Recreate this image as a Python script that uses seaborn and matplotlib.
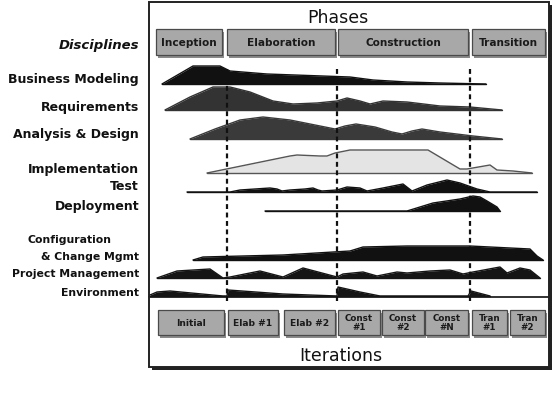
import numpy as np
import matplotlib.pyplot as plt
import seaborn as sns
from matplotlib.patches import Rectangle

# ---- data: effort humps, t = days from project start, h = relative effort ----
bm_t = [12, 43, 70, 80, 117, 200, 223, 257, 290, 336]
bm_h = [0, 18, 18, 13, 10, 7, 4, 2, 1, 0]

req_t = [15, 40, 63, 80, 100, 123, 143, 167, 187, 197, 210, 220, 233, 257, 290, 320, 352]
req_h = [0, 13, 23, 23, 18, 9, 6, 7, 9, 12, 9, 6, 9, 8, 4, 3, 0]

ad_t = [40, 65, 90, 113, 140, 165, 185, 195, 206, 225, 242, 252, 262, 272, 290, 323, 352]
ad_h = [0, 10, 19, 22, 19, 14, 10, 13, 15, 12, 7, 5, 8, 10, 7, 3, 0]

impl_t = [57, 140, 147, 170, 177, 185, 200, 278, 310, 317, 340, 347, 363, 382]
impl_h = [0, 17, 18, 17, 17, 20, 23, 23, 4, 4, 8, 3, 2, 0]

test_t = [37, 80, 90, 105, 120, 127, 132, 140, 155, 163, 168, 172, 187, 197, 210, 217,
          233, 253, 262, 277, 297, 310, 327, 340, 387]
test_h = [0, 0, 2, 3, 4, 3, 1, 2, 3, 4, 2, 1, 2, 5, 4, 1, 4, 8, 1, 7, 12, 9, 3, 0, 0]

dep_t = [115, 257, 270, 283, 310, 323, 330, 337, 342, 347, 350]
dep_h = [0, 0, 4, 8, 12, 15, 14, 10, 7, 4, 0]

cfg_t = [43, 53, 133, 200, 213, 257, 320, 380, 387, 393]
cfg_h = [0, 3, 5, 9, 13, 14, 14, 11, 4, 0]

pm_t = [7, 27, 60, 73, 80, 110, 133, 153, 187, 193, 213, 227, 247, 257, 280, 300,
        313, 323, 350, 357, 370, 380, 390]
pm_h = [0, 7, 9, 0, 1, 7, 1, 10, 1, 4, 6, 2, 6, 5, 7, 8, 4, 6, 11, 5, 10, 8, 0]

env_t = [0, 7, 20, 73, 77, 78, 133, 187, 188, 210, 230, 318, 321, 340]
env_h = [1, 4, 5, 0, 0, 6, 2, 0, 9, 4, 0, 0, 5, 0]

disciplines = ["Business Modeling", "Requirements", "Analysis & Design", "Implementation",
               "Test", "Deployment", "Configuration\n& Change Mgmt", "Project Management",
               "Environment"]
humps = [(bm_t, bm_h), (req_t, req_h), (ad_t, ad_h), (impl_t, impl_h), (test_t, test_h),
         (dep_t, dep_h), (cfg_t, cfg_h), (pm_t, pm_h), (env_t, env_h)]

phases = ["Inception", "Elaboration", "Construction", "Transition"]
phase_start = [6, 77, 188, 322]
phase_end = [72, 185, 318, 395]
milestones = [77, 187, 320]

iterations = ["Initial", "Elab #1", "Elab #2", "Const\n#1", "Const\n#2", "Const\n#N",
              "Tran\n#1", "Tran\n#2"]
iter_start = [8, 78, 134, 188, 232, 275, 322, 360]
iter_end = [74, 128, 185, 230, 274, 318, 357, 395]

# ---- layout (pixels) ----
X0 = 150
baselines = [85, 111, 140, 174, 193, 212, 261, 279, 297]
label_y = [80, 107, 135, 170, 187, 207, 248, 274, 293]
label_size = [9, 9, 9, 9, 9, 9, 7.8, 7.8, 7.8]
fills = ["#111111", "#333333", "#3a3a3a", "#e4e4e4", "#111111", "#111111",
         "#111111", "#151515", "#151515"]
edges = ["#111111", "#333333", "#3a3a3a", "#555555", "#111111", "#111111",
         "#111111", "#151515", "#151515"]

sns.set_style("white")
plt.rcParams['font.family'] = ['DejaVu Sans']

fig = plt.figure(figsize=(5.57, 4.02), dpi=100)
ax = fig.add_axes([0, 0, 1, 1])
ax.set_xlim(0, 557)
ax.set_ylim(402, 0)
ax.axis("off")

# frame with shadow
ax.add_patch(Rectangle((152, 6), 400, 365, facecolor="#222222", edgecolor="none", zorder=0))
ax.add_patch(Rectangle((149, 3), 400, 365, facecolor="white", edgecolor="#222222",
                       linewidth=1.4, zorder=1))
ax.plot([149, 549], [298, 298], color="#222222", lw=1.3, zorder=2)

ax.text(338, 18, "Phases", ha="center", va="center", fontsize=12.5, color="#111111", zorder=5)
ax.text(341, 356, "Iterations", ha="center", va="center", fontsize=12.5, color="#111111", zorder=5)
ax.text(139, 45, "Disciplines", ha="right", va="center", fontsize=9.5, fontweight="bold",
        style="italic", color="#111111")


def box(x0, x1, y0, y1, text, fs):
    ax.add_patch(Rectangle((X0 + x0 + 2, y0 + 3), x1 - x0, y1 - y0, facecolor="#8a8a8a",
                           edgecolor="none", zorder=3))
    ax.add_patch(Rectangle((X0 + x0, y0), x1 - x0, y1 - y0, facecolor="#a8a8a8",
                           edgecolor="#4a4a4a", linewidth=0.9, zorder=4))
    ax.text(X0 + (x0 + x1) / 2, (y0 + y1) / 2, text, ha="center", va="center", fontsize=fs,
            color="#1a1a1a", fontweight="bold", zorder=5, linespacing=1.0)


for name, s, e in zip(phases, phase_start, phase_end):
    box(s, e, 30, 56, name, 7.6)
for name, s, e in zip(iterations, iter_start, iter_end):
    box(s, e, 311, 336, name, 6.3 if "\n" in name else 6.6)

# discipline labels
for name, y, fs in zip(disciplines, label_y, label_size):
    if "\n" in name:
        top, bottom = name.split("\n")
        ax.text(27, 240, top, ha="left", va="center", fontsize=fs, fontweight="bold", color="#111111")
        ax.text(139, 257, bottom, ha="right", va="center", fontsize=fs, fontweight="bold", color="#111111")
    else:
        ax.text(139, y, name, ha="right", va="center", fontsize=fs, fontweight="bold", color="#111111")

# humps
for (t, h), base, fc, ec in zip(humps, baselines, fills, edges):
    x = X0 + np.array(t)
    y = base - np.array(h)
    ax.fill_between(x, base, y, color=fc, linewidth=0, zorder=6)
    sns.lineplot(x=x, y=y, ax=ax, color=ec, lw=1.0, sort=False, estimator=None, zorder=7)
    ax.plot([x[0], x[-1]], [base, base], color=ec, lw=1.0, zorder=7)

# phase milestones
for m in milestones:
    ax.plot([X0 + m, X0 + m], [70, 302], color="#111111", lw=1.6, ls=(0, (2.2, 1.6)), zorder=8)

fig.savefig("out.png", dpi=100, facecolor="white")
